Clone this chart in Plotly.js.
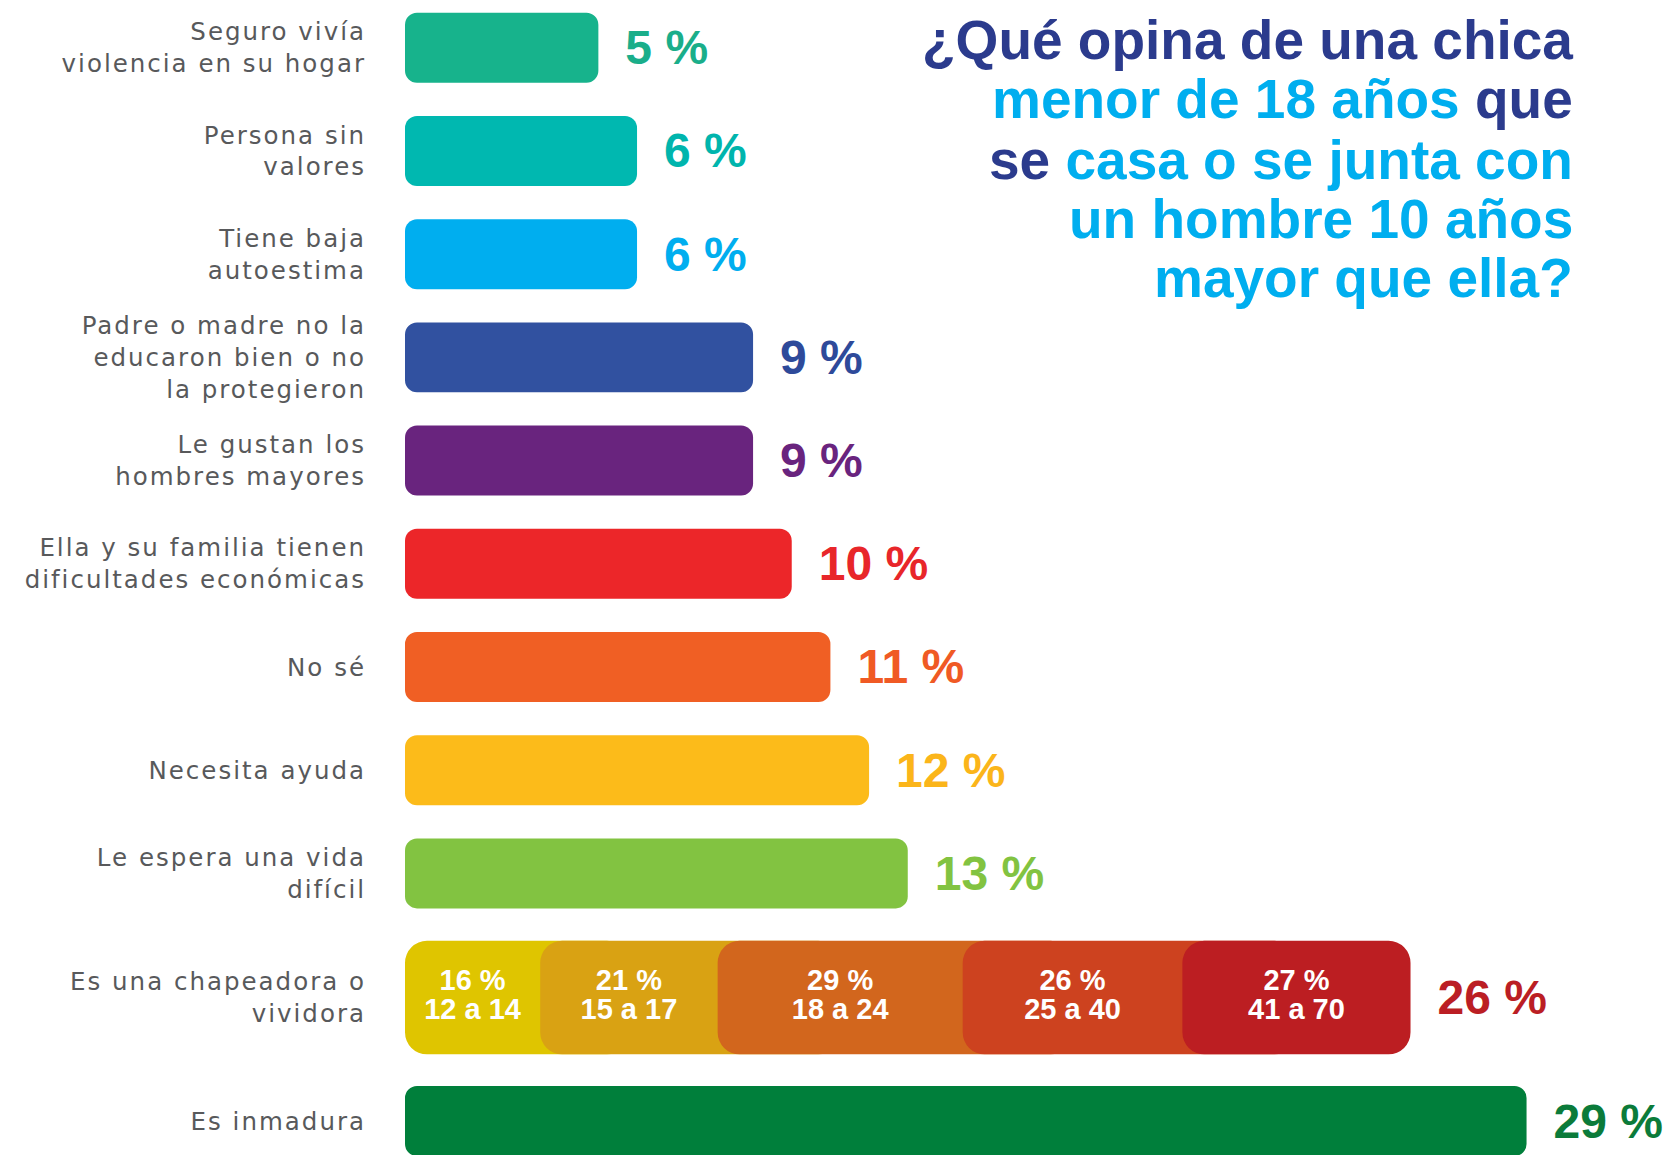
<!DOCTYPE html>
<html>
<head>
<meta charset="utf-8">
<script src="https://cdn.plot.ly/plotly-3.0.1.min.js"></script>
<style>
  html, body { margin: 0; padding: 0; background: #ffffff; }
  #chart { width: 1665px; height: 1155px; }
  #chart .yaxislayer-above text { letter-spacing: 2px; }
</style>
</head>
<body>
<div id="chart"></div>
<script>
// ---------- DATA ----------
const categories = [
  'Seguro vivía violencia en su hogar',
  'Persona sin valores',
  'Tiene baja autoestima',
  'Padre o madre no la educaron bien o no la protegieron',
  'Le gustan los hombres mayores',
  'Ella y su familia tienen dificultades económicas',
  'No sé',
  'Necesita ayuda',
  'Le espera una vida difícil',
  'Es una chapeadora o vividora',
  'Es inmadura'
];
const tickLabels = [
  'Seguro vivía<br>violencia en su hogar',
  'Persona sin<br>valores',
  'Tiene baja<br>autoestima',
  'Padre o madre no la<br>educaron bien o no<br>la protegieron',
  'Le gustan los<br>hombres mayores',
  'Ella y su familia tienen<br>dificultades económicas',
  'No sé',
  'Necesita ayuda',
  'Le espera una vida<br>difícil',
  'Es una chapeadora o<br>vividora',
  'Es inmadura'
];
const values = [5, 6, 6, 9, 9, 10, 11, 12, 13, 26, 29];
const barColors = ['#17b38c', '#00b8b0', '#00aeef', '#3151a0', '#69247e',
                   '#ec2629', '#f05f24', '#fcbb1a', '#82c341', '#bc1e22', '#007f3b'];
const labelColors = ['#1aae8a', '#00b5ad', '#00aeef', '#2e4a9a', '#69247e',
                     '#e8262a', '#f05a24', '#fbb51a', '#82c341', '#bb1e24', '#0b7b3a'];

// breakdown of "Es una chapeadora o vividora" by age group
const ageGroups = ['12 a 14', '15 a 17', '18 a 24', '25 a 40', '41 a 70'];
const ageShares = [16, 21, 29, 26, 27];
const ageColors = ['#dfc500', '#d9a213', '#d2661d', '#cd421f', '#bc1e22'];

// title
const titleDark = '#2b3b8d';
const titleLight = '#00aeef';
const titleLines = [
  [['¿Qué opina de una chica', 'dark']],
  [['menor de 18 años ', 'light'], ['que', 'dark']],
  [['se ', 'dark'], ['casa o se junta con', 'light']],
  [['un hombre 10 años', 'light']],
  [['mayor que ella?', 'light']]
];

// ---------- BUILD ----------
const pct = v => v + ' %';
const gap = '\u2002';
const TOP = 9;
const topCats = categories.slice(0, TOP);
const topVals = values.slice(0, TOP);
const botCats = categories.slice(TOP);
const labelFontBase = { family: 'Liberation Sans, Arial, sans-serif', size: 48, weight: 700 };
const R = 12;
const traces = [];

// top 9 bars (explicit base -> both ends rounded)
traces.push({
  type: 'bar', orientation: 'h', xaxis: 'x', yaxis: 'y',
  y: topCats, base: topVals.map(() => 0), x: topVals,
  width: 0.678, marker: { color: barColors.slice(0, TOP), cornerradius: R, line: { width: 0 } },
  text: topVals.map(v => gap + pct(v)), textposition: 'outside', textangle: 0,
  constraintext: 'none', cliponaxis: false,
  outsidetextfont: Object.assign({}, labelFontBase, { color: labelColors.slice(0, TOP) }),
  hoverinfo: 'skip'
});

// chapeadora: segments proportional to age shares, filling the total
const chapTotal = values[TOP];
const shareSum = ageShares.reduce((a, b) => a + b, 0);
const segLen = ageShares.map(p => chapTotal * p / shareSum);
const segStart = [];
segLen.reduce((acc, l, i) => { segStart[i] = acc; return acc + l; }, 0);
const segMid = segLen.map((l, i) => segStart[i] + l / 2);
const RS = 22;
for (let k = 0; k < ageShares.length; k++) {
  const last = k === ageShares.length - 1;
  const seg = {
    type: 'bar', orientation: 'h', xaxis: 'x', yaxis: 'y2',
    y: [botCats[0]], base: [segStart[k]],
    // each segment slides under the next one, whose rounded left end overlaps it
    x: [last ? segLen[k] : segMid[k + 1] - segStart[k]],
    width: 0.92, marker: { color: ageColors[k], cornerradius: RS, line: { width: 0 } },
    hoverinfo: 'skip'
  };
  if (last) {
    Object.assign(seg, {
      text: [gap + pct(chapTotal)], textposition: 'outside', textangle: 0,
      constraintext: 'none', cliponaxis: false,
      outsidetextfont: Object.assign({}, labelFontBase, { color: labelColors[TOP] })
    });
  }
  traces.push(seg);
}

// segment labels
const segFont = { family: 'Liberation Sans, Arial, sans-serif', size: 29, color: '#ffffff', weight: 700 };
traces.push({
  type: 'scatter', mode: 'text', xaxis: 'x', yaxis: 'y2',
  x: segMid, y: segMid.map(() => botCats[0]), text: ageShares.map(pct),
  textposition: 'top center', textfont: segFont, cliponaxis: false, hoverinfo: 'skip'
});
traces.push({
  type: 'scatter', mode: 'text', xaxis: 'x', yaxis: 'y2',
  x: segMid, y: segMid.map(() => botCats[0]), text: ageGroups,
  textposition: 'bottom center', textfont: segFont, cliponaxis: false, hoverinfo: 'skip'
});

// inmadura
const inmVal = values[TOP + 1];
traces.push({
  type: 'bar', orientation: 'h', xaxis: 'x', yaxis: 'y2',
  y: [botCats[1]], base: [0], x: [inmVal],
  width: 0.567, marker: { color: barColors[TOP + 1], cornerradius: R, line: { width: 0 } },
  text: [gap + pct(inmVal)], textposition: 'outside', textangle: 0,
  constraintext: 'none', cliponaxis: false,
  outsidetextfont: Object.assign({}, labelFontBase, { color: labelColors[TOP + 1] }),
  hoverinfo: 'skip'
});

// title annotations
const titleY = [0.9657, 0.9143, 0.8618, 0.8104, 0.7597];
const annotations = titleLines.map((parts, i) => ({
  xref: 'paper', yref: 'paper', x: 0.9286, y: titleY[i],
  xanchor: 'right', yanchor: 'middle', showarrow: false,
  text: parts.map(([t, c]) => '<span style="color:' + (c === 'dark' ? titleDark : titleLight) + '">' + t + '</span>').join(''),
  font: { family: 'Liberation Sans, Arial, sans-serif', size: 55, weight: 700, color: titleDark }
}));

const tickFont = { family: 'DejaVu Sans, sans-serif', size: 24.5, color: '#58595b' };
const splitFrac = 1 - 925 / 1155;
const layout = {
  width: 1665, height: 1155,
  margin: { l: 405, r: 0, t: 0, b: 0, pad: 0 },
  paper_bgcolor: '#ffffff', plot_bgcolor: '#ffffff',
  barmode: 'overlay', showlegend: false,
  xaxis: { range: [0, 32.58], visible: false, anchor: 'y2', fixedrange: true },
  yaxis: {
    domain: [splitFrac, 1], anchor: 'x', type: 'category',
    categoryorder: 'array', categoryarray: topCats,
    tickvals: topCats, ticktext: tickLabels.slice(0, TOP),
    range: [8.5, -0.463], showgrid: false, zeroline: false, showline: false,
    ticks: '', ticklabelstandoff: 38, tickfont: tickFont, fixedrange: true
  },
  yaxis2: {
    domain: [0, splitFrac], anchor: 'x', type: 'category',
    categoryarray: botCats, categoryorder: 'array',
    tickvals: botCats, ticktext: tickLabels.slice(TOP),
    range: [1.2755, -0.588], showgrid: false, zeroline: false, showline: false,
    ticks: '', ticklabelstandoff: 38, tickfont: tickFont, fixedrange: true
  },
  annotations: annotations
};

Plotly.newPlot('chart', traces, layout, { displayModeBar: false, staticPlot: true });
</script>
</body>
</html>
